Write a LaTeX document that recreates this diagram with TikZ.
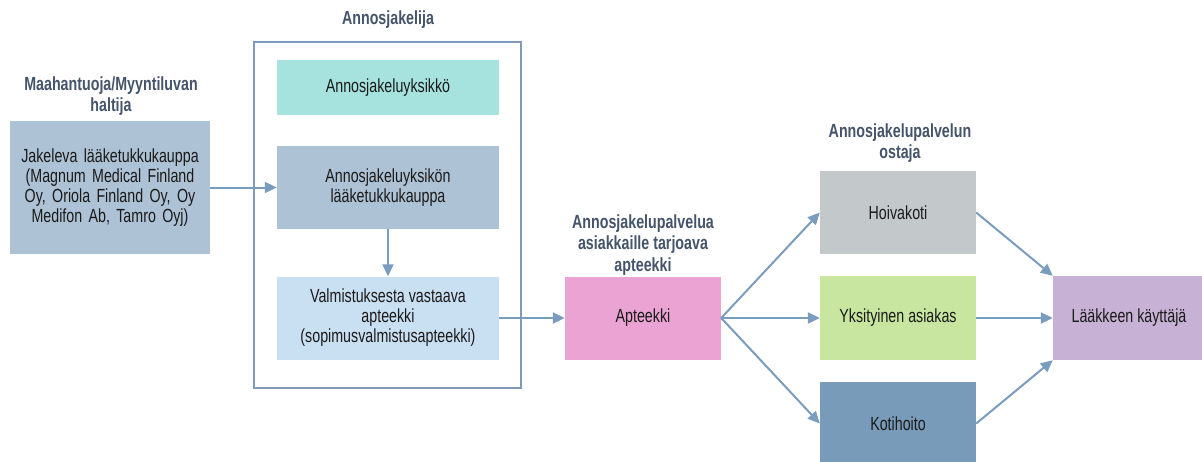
\documentclass[tikz,border=0pt]{standalone}
\usepackage{fontspec}
\setmainfont{Liberation Sans}[FakeStretch=0.75]
\usetikzlibrary{arrows.meta}
\definecolor{linec}{HTML}{7A9CBF}
\definecolor{framec}{HTML}{7F9BBA}
\definecolor{titlec}{HTML}{44546A}
\definecolor{textc}{HTML}{1A1A1A}
\definecolor{cjak}{HTML}{ADC2D5}
\definecolor{cyks}{HTML}{A6E3DE}
\definecolor{cvalm}{HTML}{C9DFF2}
\definecolor{capt}{HTML}{EAA3D3}
\definecolor{choiva}{HTML}{C3C8CB}
\definecolor{cyksit}{HTML}{C8E6A0}
\definecolor{ckoti}{HTML}{789BBA}
\definecolor{claak}{HTML}{C7B1D4}
\tikzset{
  box/.style={draw=none, inner sep=2pt, align=center, text=textc,
    font=\fontsize{19}{20}\selectfont},
  heading/.style={align=center, text=titlec,
    font=\fontsize{19}{21.5}\selectfont\bfseries},
  flow/.style={draw=linec, line width=2pt,
    -{Triangle[length=12pt,width=11pt]}},
}
\begin{document}
\begin{tikzpicture}[x=1pt,y=-1pt]
\useasboundingbox (0,0) rectangle (1202,461);
\fill[white] (0,0) rectangle (1202,461);

% headings
\node[heading] (hjak) at (111,96) {Maahantuoja/Myyntiluvan\\haltija};
\node[heading] (hann) at (388,20) {Annosjakelija};
\node[heading] (hapt) at (643,245) {Annosjakelupalvelua\\asiakkaille tarjoava\\apteekki};
\node[heading] (host) at (900,143) {Annosjakelupalvelun\\ostaja};

% dispensing unit frame
\node[draw=framec, line width=1.8pt, minimum width=267pt, minimum height=346pt,
  inner sep=0pt] (frame) at (387.5,215) {};

% boxes
\node[box, fill=cjak, minimum width=200pt, minimum height=133pt, text width=185pt]
  (jak) at (110,187.5) {Jakeleva lääketukkukauppa (Magnum Medical Finland Oy, Oriola Finland Oy, Oy Medifon Ab, Tamro Oyj)};
\node[box, fill=cyks, minimum width=222pt, minimum height=55pt] (yks) at (388,87.5) {Annosjakeluyksikkö};
\node[box, fill=cjak, minimum width=222pt, minimum height=83pt] (tukku) at (388,187.5) {Annosjakeluyksikön\\lääketukkukauppa};
\node[box, fill=cvalm, minimum width=222pt, minimum height=83pt] (valm) at (388,318) {Valmistuksesta vastaava\\apteekki\\(sopimusvalmistusapteekki)};
\node[box, fill=capt, minimum width=156pt, minimum height=83pt] (apt) at (643,318) {Apteekki};
\node[box, fill=choiva, minimum width=156pt, minimum height=83pt] (hoiva) at (898,212.5) {Hoivakoti};
\node[box, fill=cyksit, minimum width=156pt, minimum height=84pt] (yksit) at (898,318) {Yksityinen asiakas};
\node[box, fill=ckoti, minimum width=156pt, minimum height=83pt] (koti) at (898,423.5) {Kotihoito};
\node[box, fill=claak, minimum width=152pt, minimum height=84pt] (laak) at (1129,318) {Lääkkeen käyttäjä};

% connectors
\draw[flow] (jak.east) -- (tukku.west);
\draw[flow] (tukku.south) -- (valm.north);
\draw[flow] (valm.east) -- (apt.west);
\draw[flow] (apt.east) -- (hoiva.west);
\draw[flow] (apt.east) -- (yksit.west);
\draw[flow] (apt.east) -- (koti.west);
\draw[flow] (hoiva.east) -- (laak.north west);
\draw[flow] (yksit.east) -- (laak.west);
\draw[flow] (koti.east) -- (laak.south west);
\end{tikzpicture}
\end{document}
